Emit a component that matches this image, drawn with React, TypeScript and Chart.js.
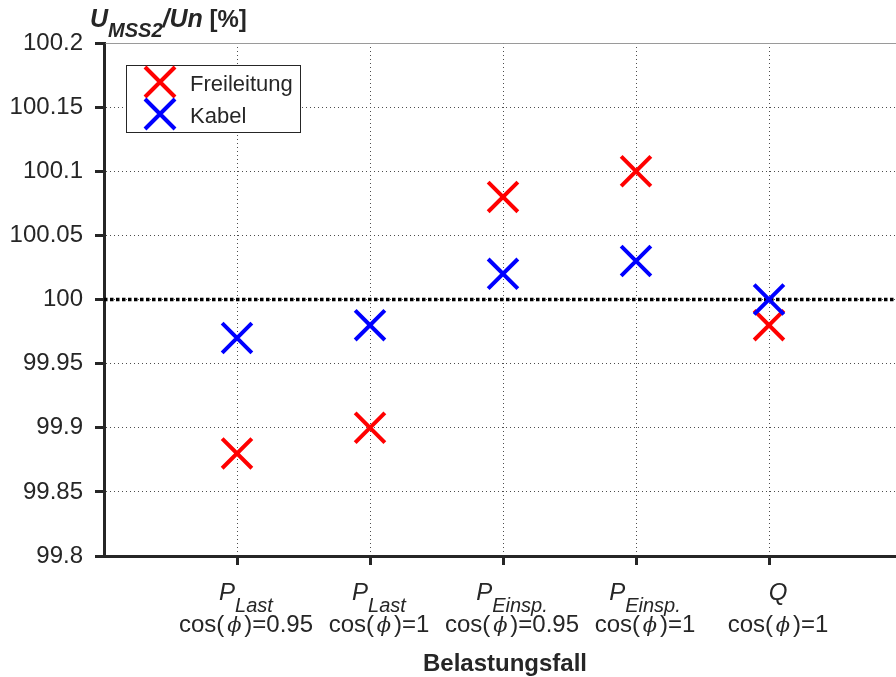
import React, { useEffect, useRef } from 'react';
import { Chart, registerables } from 'chart.js';

Chart.register(...registerables);

// Load cases along the x axis
const casePositions = [1, 2, 3, 4, 5];
const caseSymbols = ['P', 'P', 'P', 'P', 'Q'];
const caseSubscripts = ['Last', 'Last', 'Einsp.', 'Einsp.', ''];
const cosPhiValues = ['0.95', '1', '0.95', '1', '1'];
const xRange = [0, 6];

// Voltage at MSS2 relative to nominal voltage [%]
const freileitung = [99.88, 99.9, 100.08, 100.1, 99.98];
const kabel = [99.97, 99.98, 100.02, 100.03, 100.0];
const nominalLevel = 100;

const yTickValues = [99.8, 99.85, 99.9, 99.95, 100, 100.05, 100.1, 100.15, 100.2];
const yTickLabels = ['99.8', '99.85', '99.9', '99.95', '100', '100.05', '100.1', '100.15', '100.2'];

const seriesNames = ['Freileitung', 'Kabel'];
const seriesColors = ['#ff0000', '#0000ff'];
const xAxisTitle = 'Belastungsfall';

const FONT = '"Liberation Sans", Arial, Helvetica, sans-serif';
const TEXT = '#262626';

type Run = { text: string; font: string; dy?: number; width?: number };

function measureRuns(ctx: CanvasRenderingContext2D, runs: Run[]) {
  return runs.map((r) => {
    ctx.font = r.font;
    return r.width ?? ctx.measureText(r.text).width;
  });
}

function drawRuns(ctx: CanvasRenderingContext2D, runs: Run[], x0: number, baseline: number) {
  const widths = measureRuns(ctx, runs);
  let x = x0;
  runs.forEach((r, i) => {
    ctx.font = r.font;
    if (r.width) {
      ctx.textAlign = 'center';
      ctx.fillText(r.text, x + r.width / 2, baseline + (r.dy ?? 0));
    } else {
      ctx.textAlign = 'left';
      ctx.fillText(r.text, x, baseline + (r.dy ?? 0));
    }
    x += widths[i];
  });
}

function drawRunsCentered(ctx: CanvasRenderingContext2D, runs: Run[], cx: number, baseline: number) {
  const total = measureRuns(ctx, runs).reduce((a, b) => a + b, 0);
  drawRuns(ctx, runs, cx - total / 2, baseline);
}

function drawCross(ctx: CanvasRenderingContext2D, x: number, y: number, half: number, color: string) {
  ctx.save();
  ctx.strokeStyle = color;
  ctx.lineWidth = 4;
  ctx.beginPath();
  ctx.moveTo(x - half, y - half);
  ctx.lineTo(x + half, y + half);
  ctx.moveTo(x + half, y - half);
  ctx.lineTo(x - half, y + half);
  ctx.stroke();
  ctx.restore();
}

const annotations = {
  id: 'annotations',
  afterDraw(chart: any) {
    const { ctx, chartArea, scales } = chart;
    const { left, right, top, bottom } = chartArea;
    ctx.save();

    // top frame line
    ctx.strokeStyle = '#9a9a9a';
    ctx.lineWidth = 1;
    ctx.beginPath();
    ctx.moveTo(left + 1.5, Math.round(top) + 0.5);
    ctx.lineTo(right, Math.round(top) + 0.5);
    ctx.stroke();

    ctx.fillStyle = TEXT;
    ctx.textBaseline = 'alphabetic';

    // y axis title
    drawRuns(
      ctx,
      [
        { text: 'U', font: `italic bold 25px ${FONT}` },
        { text: 'MSS2', font: `italic bold 20px ${FONT}`, dy: 10 },
        { text: '/Un', font: `italic bold 25px ${FONT}` },
        { text: ' [%]', font: `bold 24px ${FONT}` },
      ],
      left - 14,
      top - 16
    );

    // x tick labels
    casePositions.forEach((pos, i) => {
      const cx = scales.x.getPixelForValue(pos) + 9;
      const line1: Run[] = [{ text: caseSymbols[i], font: `italic 24px ${FONT}` }];
      if (caseSubscripts[i]) {
        line1.push({ text: caseSubscripts[i], font: `italic 20px ${FONT}`, dy: 12 });
      }
      drawRunsCentered(ctx, line1, cx, bottom + 44);
      drawRunsCentered(
        ctx,
        [
          { text: 'cos(', font: `24px ${FONT}` },
          { text: '\u03D5', font: `italic 21px "DejaVu Serif", serif`, width: 20 },
          { text: ')=' + cosPhiValues[i], font: `24px ${FONT}` },
        ],
        cx,
        bottom + 76
      );
    });

    // x axis title
    ctx.font = `bold 24px ${FONT}`;
    ctx.textAlign = 'center';
    ctx.fillText(xAxisTitle, (left + right) / 2 + 2, bottom + 115);

    // legend
    const bx = left + 22;
    const by = top + 22;
    ctx.fillStyle = '#ffffff';
    ctx.fillRect(bx + 0.5, by + 0.5, 174, 67);
    ctx.strokeStyle = TEXT;
    ctx.lineWidth = 1;
    ctx.strokeRect(bx + 0.5, by + 0.5, 174, 67);
    seriesNames.forEach((name, i) => {
      const cy = by + 17 + i * 32;
      drawCross(ctx, bx + 34, cy, 15, seriesColors[i]);
      ctx.fillStyle = TEXT;
      ctx.font = `22px ${FONT}`;
      ctx.textAlign = 'left';
      ctx.fillText(name, bx + 64, cy + 9);
    });

    ctx.restore();
  },
};

export default function App() {
  const canvasRef = useRef<HTMLCanvasElement>(null);

  useEffect(() => {
    const gridStyle = {
      color: '#4d4d4d',
      lineWidth: 1,
      drawTicks: true,
      tickLength: 9,
      tickWidth: 3,
      tickColor: TEXT,
    };
    const borderStyle = { display: true, color: TEXT, width: 3, dash: [1, 3] };

    const chart = new Chart(canvasRef.current as HTMLCanvasElement, {
      type: 'scatter',
      data: {
        datasets: [
          {
            label: seriesNames[0],
            data: casePositions.map((x, i) => ({ x, y: freileitung[i] })),
            pointStyle: 'crossRot',
            pointRadius: 21,
            pointBorderWidth: 4,
            pointBorderColor: seriesColors[0],
            pointBackgroundColor: seriesColors[0],
            borderColor: seriesColors[0],
            order: 1,
            clip: false,
          },
          {
            label: seriesNames[1],
            data: casePositions.map((x, i) => ({ x, y: kabel[i] })),
            pointStyle: 'crossRot',
            pointRadius: 21,
            pointBorderWidth: 4,
            pointBorderColor: seriesColors[1],
            pointBackgroundColor: seriesColors[1],
            borderColor: seriesColors[1],
            order: 0,
            clip: false,
          },
          {
            label: 'Un',
            data: xRange.map((x) => ({ x, y: nominalLevel })),
            showLine: true,
            borderColor: '#000000',
            borderWidth: 3.5,
            borderDash: [3.5, 2.5],
            pointRadius: 0,
            order: 2,
          },
        ] as any,
      },
      options: {
        responsive: false,
        animation: false,
        devicePixelRatio: 1,
        events: [],
        layout: { autoPadding: false, padding: { top: 43, right: 8, left: 0, bottom: 0 } },
        plugins: {
          legend: { display: false },
          tooltip: { enabled: false },
        },
        scales: {
          x: {
            type: 'linear',
            min: xRange[0],
            max: xRange[1],
            afterBuildTicks: (scale: any) => {
              scale.ticks = casePositions.map((value) => ({ value }));
            },
            afterFit: (scale: any) => {
              scale.height = 121;
            },
            ticks: { display: false },
            grid: gridStyle,
            border: borderStyle,
          },
          y: {
            type: 'linear',
            min: yTickValues[0],
            max: yTickValues[yTickValues.length - 1],
            afterBuildTicks: (scale: any) => {
              scale.ticks = yTickValues.map((value) => ({ value }));
            },
            afterFit: (scale: any) => {
              scale.width = 104;
            },
            ticks: {
              font: { family: FONT, size: 24 },
              color: TEXT,
              padding: 12,
              autoSkip: false,
              callback: (value: any) => {
                const idx = yTickValues.findIndex((v) => Math.abs(v - Number(value)) < 1e-9);
                return idx >= 0 ? yTickLabels[idx] : '';
              },
            },
            grid: gridStyle,
            border: borderStyle,
          },
        },
      } as any,
      plugins: [annotations],
    });

    return () => chart.destroy();
  }, []);

  return (
    <div
      style={{
        position: 'fixed',
        left: 0,
        top: 0,
        width: 896,
        height: 677,
        overflow: 'hidden',
        background: '#ffffff',
      }}
    >
      <canvas ref={canvasRef} width={910} height={677} style={{ display: 'block', width: 910, height: 677 }} />
    </div>
  );
}
